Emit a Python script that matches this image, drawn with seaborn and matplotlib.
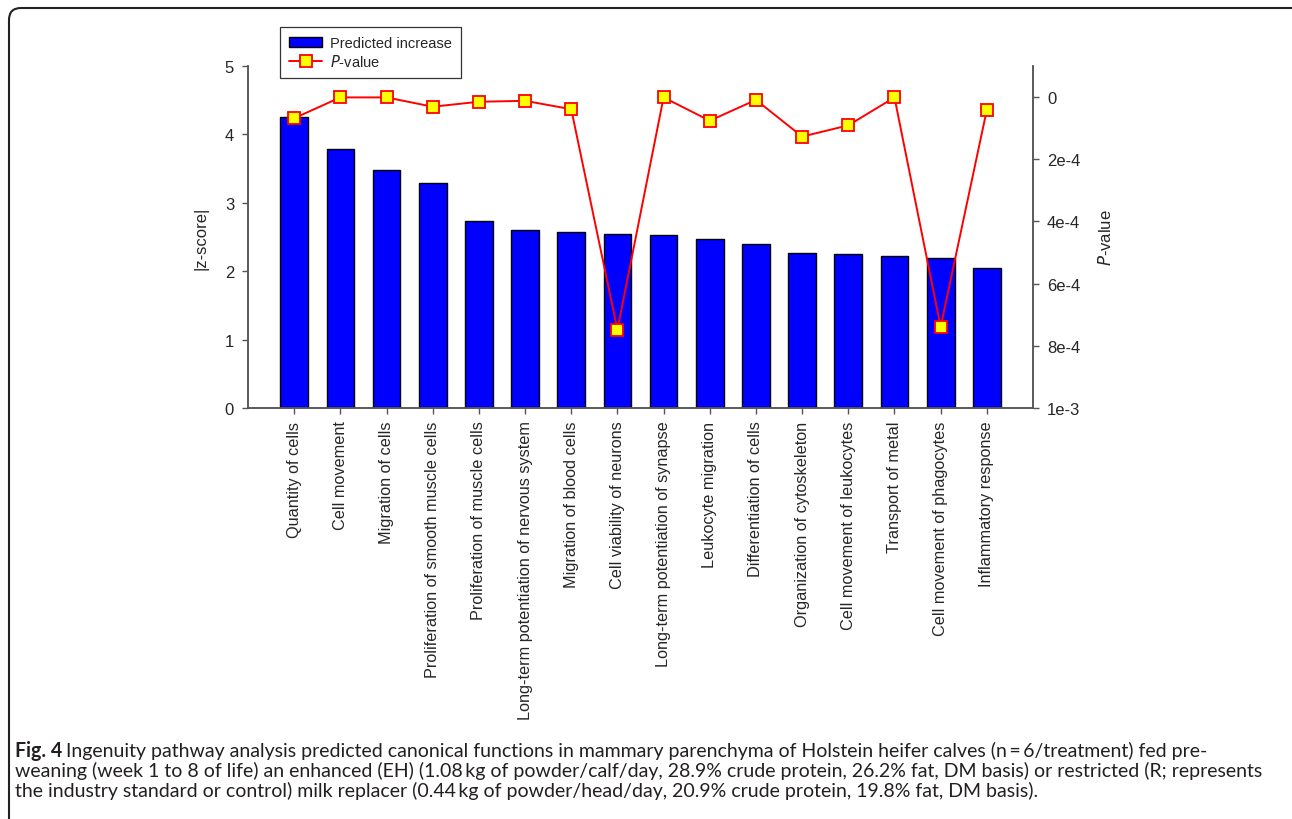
import matplotlib
matplotlib.use("Agg")
import matplotlib.pyplot as plt
import seaborn as sns
import pandas as pd
from matplotlib.patches import Patch, FancyBboxPatch
from matplotlib.lines import Line2D
from matplotlib.ticker import FixedLocator, FixedFormatter
from matplotlib.transforms import IdentityTransform

# Functions and their scores
functions = [
    "Quantity of cells",
    "Cell movement",
    "Migration of cells",
    "Proliferation of smooth muscle cells",
    "Proliferation of muscle cells",
    "Long-term potentiation of nervous system",
    "Migration of blood cells",
    "Cell viability of neurons",
    "Long-term potentiation of synapse",
    "Leukocyte migration",
    "Differentiation of cells",
    "Organization of cytoskeleton",
    "Cell movement of leukocytes",
    "Transport of metal",
    "Cell movement of phagocytes",
    "Inflammatory response",
]
z_scores = [4.26, 3.79, 3.48, 3.29, 2.74, 2.60, 2.58, 2.55,
            2.53, 2.47, 2.40, 2.27, 2.25, 2.22, 2.20, 2.05]
p_values = [0.68e-4, 0.01e-4, 0.01e-4, 0.31e-4, 0.15e-4, 0.12e-4, 0.39e-4, 7.48e-4,
            0.01e-4, 0.76e-4, 0.09e-4, 1.27e-4, 0.91e-4, 0.01e-4, 7.39e-4, 0.41e-4]

left_ticks = [0, 1, 2, 3, 4, 5]
right_ticks = [0, 2e-4, 4e-4, 6e-4, 8e-4, 1e-3]
right_tick_labels = ["0", "2e-4", "4e-4", "6e-4", "8e-4", "1e-3"]

caption_lines = [
    "Ingenuity pathway analysis predicted canonical functions in mammary parenchyma of Holstein heifer calves (n\u2009=\u20096/treatment) fed pre-",
    "weaning (week 1 to 8 of life) an enhanced (EH) (1.08\u2009kg of powder/calf/day, 28.9% crude protein, 26.2% fat, DM basis) or restricted (R; represents",
    "the industry standard or control) milk replacer (0.44\u2009kg of powder/head/day, 20.9% crude protein, 19.8% fat, DM basis).",
]

sns.set_theme(style="white")
plt.rcParams["font.family"] = ["Liberation Sans", "DejaVu Sans"]

W, H = 1292, 820
fig = plt.figure(figsize=(W / 100, H / 100), dpi=100)

# rounded frame around the whole figure panel (pixel coordinates)
frame = FancyBboxPatch((9, -40), W + 40, H - 9 + 40,
                       boxstyle="round,pad=0,rounding_size=12",
                       transform=IdentityTransform(), fill=False,
                       edgecolor="#222222", linewidth=1.5)
fig.patches.append(frame)

ax = fig.add_axes([248 / W, 1 - 409 / H, (1033 - 248) / W, (409 - 67) / H])
df = pd.DataFrame({"function": functions, "z": z_scores, "p": p_values})

sns.barplot(data=df, x="function", y="z", ax=ax, color="#0000FF",
            saturation=1, width=0.6, edgecolor="black", linewidth=1.0)
ax.set_xlim(-1, len(functions))
ax.set_ylim(0, 5)
ax.yaxis.set_major_locator(FixedLocator(left_ticks))
ax.set_ylabel("|z-score|", fontsize=12, labelpad=12)
ax.set_xlabel("")
ax.tick_params(axis="x", rotation=90, labelsize=11.7, length=4, width=1,
               color="#555555", direction="out", bottom=True, pad=5)
ax.tick_params(axis="y", labelsize=12, length=4, width=1, color="#555555",
               direction="out", left=True, pad=6)
for side in ["left", "bottom", "right"]:
    ax.spines[side].set_color("#555555")
    ax.spines[side].set_linewidth(1.1)
ax.spines["top"].set_visible(False)

ax2 = ax.twinx()
sns.lineplot(x=list(range(len(functions))), y=p_values, ax=ax2, color="red",
             linewidth=1.4, marker="s", markersize=8.5,
             markerfacecolor="#FFFF00", markeredgecolor="red",
             markeredgewidth=1.3, zorder=5)
ax2.set_ylim(1e-3, -1e-4)
ax2.yaxis.set_major_locator(FixedLocator(right_ticks))
ax2.yaxis.set_major_formatter(FixedFormatter(right_tick_labels))
ax2.set_ylabel("$\\it{P}$-value", fontsize=12, rotation=90, labelpad=12)
ax2.tick_params(axis="y", labelsize=12, length=4, width=1, color="#555555",
                direction="out", right=True, pad=6)
for side in ["left", "bottom", "right"]:
    ax2.spines[side].set_color("#555555")
    ax2.spines[side].set_linewidth(1.1)
ax2.spines["top"].set_visible(False)
ax2.grid(False)
ax.grid(False)

handles = [
    Patch(facecolor="#0000FF", edgecolor="black", linewidth=1.0, label="Predicted increase"),
    Line2D([0], [0], color="red", linewidth=1.4, marker="s", markersize=8.5,
           markerfacecolor="#FFFF00", markeredgecolor="red", markeredgewidth=1.3,
           label="$\\it{P}$-value"),
]
leg = fig.legend(handles=handles, loc="upper left",
                 bbox_to_anchor=(280 / W, 1 - 28 / H), fontsize=10.5,
                 frameon=True, fancybox=False, edgecolor="black",
                 handlelength=2.3, handletextpad=0.55, borderpad=0.6,
                 labelspacing=0.22, borderaxespad=0)
leg.get_frame().set_linewidth(0.9)

# caption, sized so the widest line spans the panel
cap_font = ["Lato", "DejaVu Sans"]
cap_color = "#231f20"
fig.canvas.draw()
renderer = fig.canvas.get_renderer()
probe = fig.text(0, 0, caption_lines[1], fontsize=12, family=cap_font)
probe_w = probe.get_window_extent(renderer).width
probe.remove()
cap_size = 12 * (1244 / probe_w)

baselines = [757, 777, 797]
x_left = 15
bold = fig.text(x_left / W, 1 - baselines[0] / H, "Fig. 4", fontsize=cap_size,
                fontweight="bold", family=cap_font, va="baseline", ha="left",
                color=cap_color)
bb = bold.get_window_extent(renderer)
fig.text((bb.x1 + 4) / W, 1 - baselines[0] / H, caption_lines[0], fontsize=cap_size,
         family=cap_font, va="baseline", ha="left", color=cap_color)
for line, yb in zip(caption_lines[1:], baselines[1:]):
    fig.text(x_left / W, 1 - yb / H, line, fontsize=cap_size,
             family=cap_font, va="baseline", ha="left", color=cap_color)

fig.savefig("out.png", dpi=100)
